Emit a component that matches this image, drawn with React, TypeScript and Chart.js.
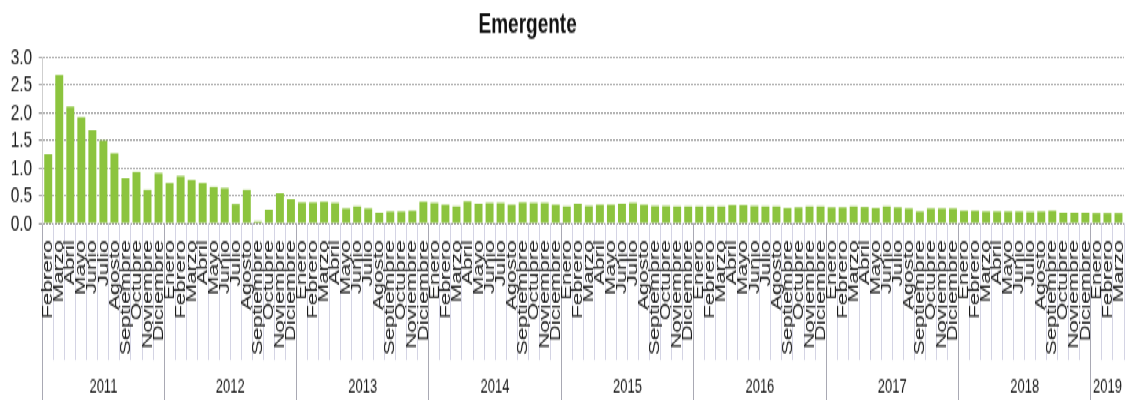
import React, { useEffect, useRef } from 'react';
import { Chart, registerables } from 'chart.js';

Chart.register(...registerables);

const TITLE = 'Emergente';
const monthNames = ['Enero', 'Febrero', 'Marzo', 'Abril', 'Mayo', 'Junio', 'Julio', 'Agosto', 'Septiembre', 'Octubre', 'Noviembre', 'Diciembre'];
const yearLabels = ['2011', '2012', '2013', '2014', '2015', '2016', '2017', '2018', '2019'];
const monthsInYear = [11, 12, 12, 12, 12, 12, 12, 12, 3];
const firstMonthIndex = 1; // series starts in Febrero 2011

const values2011 = [1.25, 2.68, 2.11, 1.92, 1.68, 1.5, 1.27, 0.82, 0.93, 0.61, 0.91];
const values2012 = [0.74, 0.86, 0.79, 0.74, 0.66, 0.64, 0.35, 0.61, 0.04, 0.25, 0.55, 0.44];
const values2013 = [0.38, 0.38, 0.39, 0.37, 0.27, 0.31, 0.27, 0.2, 0.22, 0.22, 0.23, 0.39];
const values2014 = [0.37, 0.34, 0.31, 0.4, 0.36, 0.37, 0.37, 0.34, 0.38, 0.37, 0.37, 0.34];
const values2015 = [0.31, 0.36, 0.32, 0.34, 0.34, 0.36, 0.37, 0.34, 0.32, 0.32, 0.31, 0.31];
const values2016 = [0.31, 0.31, 0.31, 0.33, 0.33, 0.32, 0.31, 0.31, 0.28, 0.29, 0.31, 0.31];
const values2017 = [0.29, 0.29, 0.31, 0.3, 0.28, 0.31, 0.29, 0.27, 0.22, 0.27, 0.27, 0.27];
const values2018 = [0.23, 0.23, 0.22, 0.22, 0.22, 0.22, 0.21, 0.22, 0.23, 0.2, 0.2, 0.2];
const values2019 = [0.19, 0.19, 0.19];

const Y_MIN = 0;
const Y_MAX = 3;
const Y_STEP = 0.5;

const values = [
  ...values2011, ...values2012, ...values2013, ...values2014, ...values2015,
  ...values2016, ...values2017, ...values2018, ...values2019,
];

const categories: string[] = yearLabels.flatMap((_, k) => {
  const s = k === 0 ? firstMonthIndex : 0;
  return monthNames.slice(s, s + monthsInYear[k]);
});

type Span = { start: number; center: number; label: string };
const yearSpans: Span[] = (() => {
  let acc = 0;
  return monthsInYear.map((n, k) => {
    const span = { start: acc - 0.5, center: acc + (n - 1) / 2, label: yearLabels[k] };
    acc += n;
    return span;
  });
})();
const yearStartIdx = new Set(yearSpans.map((s) => s.start + 0.5));

const CANVAS_W = 1125;
const CANVAS_H = 267;
const SCALE_Y = 400 / CANVAS_H;
const FONT = '"Liberation Sans", Arial, Helvetica, sans-serif';

const titlePlugin = {
  id: 'offsetTitle',
  afterDraw(chart: any) {
    const ctx = chart.ctx;
    ctx.save();
    ctx.font = `bold 19px ${FONT}`;
    ctx.fillStyle = '#111111';
    ctx.textAlign = 'center';
    ctx.textBaseline = 'alphabetic';
    ctx.fillText(TITLE, chart.width * 0.469, 22);
    ctx.restore();
  },
};

export default function App() {
  const ref = useRef<HTMLCanvasElement>(null);

  useEffect(() => {
    if (!ref.current) return;
    Chart.defaults.font.family = FONT;
    const chart = new Chart(ref.current, {
      type: 'bar',
      data: {
        labels: categories,
        datasets: [
          {
            label: TITLE,
            data: values,
            backgroundColor: '#8cc43e',
            borderWidth: 0,
            categoryPercentage: 1,
            barPercentage: 0.72,
            xAxisID: 'x',
            yAxisID: 'y',
          },
        ],
      },
      options: {
        animation: false,
        responsive: false,
        devicePixelRatio: 1,
        layout: { padding: { top: 38.25, left: 0, right: 1, bottom: 0 } },
        plugins: {
          legend: { display: false },
          title: { display: false },
          tooltip: { enabled: false },
        },
        scales: {
          y: {
            min: Y_MIN,
            max: Y_MAX,
            ticks: {
              stepSize: Y_STEP,
              autoSkip: false,
              color: '#1a1a1a',
              font: { size: 15.5 },
              padding: 6.5,
              callback: (v: any) => Number(v).toFixed(1),
            },
            grid: { color: '#9c9c9c', lineWidth: 1, tickLength: 4 },
            border: { display: true, color: '#cfcfcf', dash: [2, 1] },
            afterFit: (scale: any) => {
              scale.width = 42.7;
            },
          },
          x: {
            type: 'category',
            position: 'bottom',
            offset: true,
            ticks: {
              autoSkip: false,
              minRotation: 90,
              maxRotation: 90,
              color: '#1a1a1a',
              font: { size: 15 },
              padding: -80,
            },
            grid: {
              offset: true,
              drawOnChartArea: false,
              tickLength: 91,
              lineWidth: 1,
              color: (ctx: any) =>
                ctx.index !== undefined && yearStartIdx.has(ctx.index) ? '#a9a9b4' : '#d4d4e4',
            },
            border: { display: false },
            afterFit: (scale: any) => {
              scale.height = 91;
            },
          },
          x2: {
            type: 'linear',
            position: 'bottom',
            offset: false,
            min: -0.5,
            max: values.length - 0.5,
            afterBuildTicks: (scale: any) => {
              const ticks: { value: number }[] = [];
              yearSpans.forEach((s) => {
                ticks.push({ value: s.start });
                ticks.push({ value: s.center });
              });
              scale.ticks = ticks;
            },
            ticks: {
              autoSkip: false,
              maxRotation: 0,
              minRotation: 0,
              color: '#1a1a1a',
              font: { size: 13 },
              padding: -16.5,
              callback: (v: any) => {
                const s = yearSpans.find((sp) => sp.center === v);
                return s ? s.label : '';
              },
            },
            grid: {
              offset: false,
              drawOnChartArea: false,
              tickLength: 26.7,
              lineWidth: 1,
              color: (ctx: any) => {
                const v = ctx.tick ? ctx.tick.value : undefined;
                return yearSpans.some((s) => s.start === v) ? '#a9a9b4' : 'rgba(0,0,0,0)';
              },
            },
            border: { display: false },
            afterFit: (scale: any) => {
              scale.height = 26.7;
            },
          },
        },
      } as any,
      plugins: [titlePlugin],
    });
    return () => chart.destroy();
  }, []);

  return (
    <div
      style={{
        position: 'absolute',
        left: 0,
        top: 0,
        width: CANVAS_W,
        height: CANVAS_H,
        transform: `scaleY(${SCALE_Y})`,
        transformOrigin: '0 0',
        background: '#ffffff',
      }}
    >
      <canvas ref={ref} width={CANVAS_W} height={CANVAS_H} />
    </div>
  );
}
